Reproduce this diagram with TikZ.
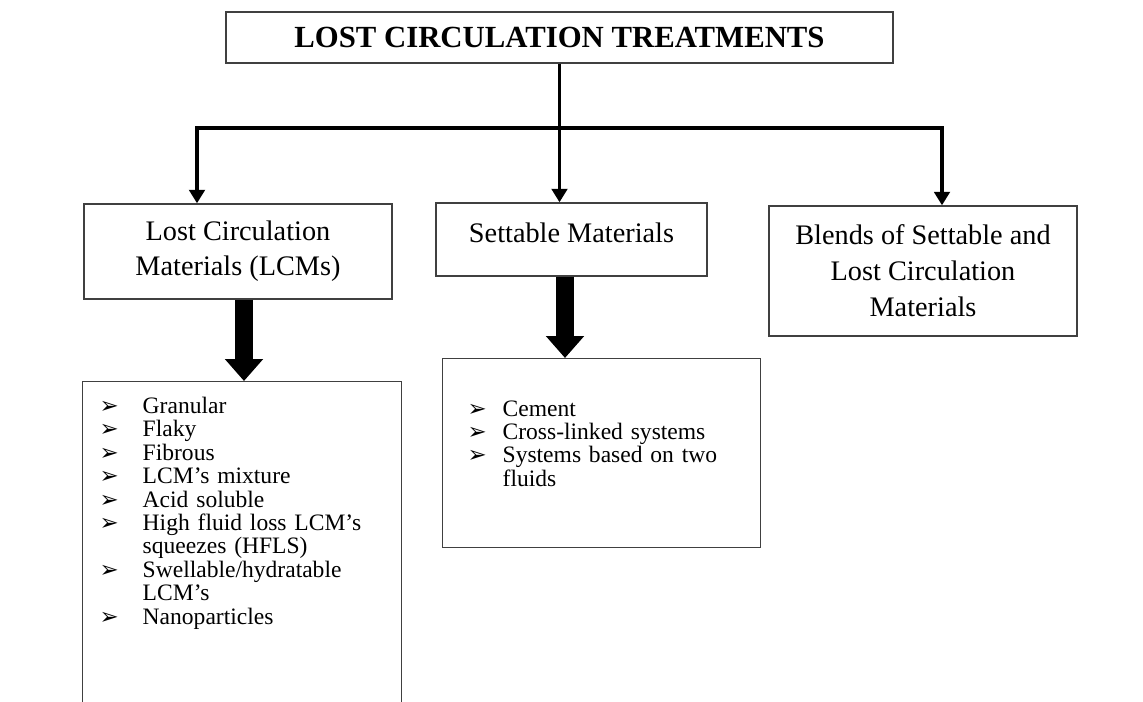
\documentclass[tikz,border=0pt]{standalone}
\usepackage{fontspec}
\setmainfont{Liberation Serif}
\newfontfamily\dejavu{DejaVu Sans}
\usetikzlibrary{positioning,arrows.meta}

\newcommand{\arrowbul}{{\dejavu\fontsize{13}{10}\selectfont ➢}}

\begin{document}
\begin{tikzpicture}[x=0.02cm, y=-0.02cm,
  box/.style={draw=black!75, line width=0.8pt, align=center,
              font=\fontsize{16.1}{19.8}\selectfont, inner sep=0pt},
  title/.style={box, font=\fontsize{17.5}{19}\selectfont\bfseries,
                minimum width=133.4mm, minimum height=10.2mm},
  listbox/.style={draw=black!75, line width=0.8pt, align=left,
                  font=\fontsize{13.4}{13.3}\selectfont},
  link/.style={line width=2pt},
  fat/.style={line width=3.5mm, -{Triangle[width=7.4mm,length=4.4mm]}},
  ]
  \useasboundingbox (0,0) rectangle (1143,701);

  \node[title] (title) at (559.5,37.5) {LOST CIRCULATION TREATMENTS};
  \node[box, minimum width=61.6mm, minimum height=19mm] (lcm) at (238,251.5)
    {Lost Circulation\\Materials (LCMs)};
  \node[box, minimum width=54.2mm, minimum height=14.6mm] (set) at (571.5,239.5)
    {Settable Materials\\[-12pt]\mbox{}};
  \node[box, minimum width=61.6mm, minimum height=26mm,
        font=\fontsize{16.1}{20.5}\selectfont] (blends) at (923,271)
    {Blends of Settable and\\Lost Circulation\\Materials};

  \node[listbox, anchor=north west, inner xsep=3.4mm, inner ysep=3.1mm,
        text width=57mm] (lcmlist) at (82,381)
    {\begin{tabular}{@{}p{24.5pt}@{}l@{}}
      \arrowbul & Granular\\
      \arrowbul & Flaky\\
      \arrowbul & Fibrous\\
      \arrowbul & LCM’s mixture\\
      \arrowbul & Acid soluble\\
      \arrowbul & High fluid loss LCM’s\\
                & squeezes (HFLS)\\
      \arrowbul & Swellable/hydratable\\
                & LCM’s\\
      \arrowbul & Nanoparticles\\
      & \\ & \\ & \\ & \\
    \end{tabular}};
  \node[listbox, anchor=north west, inner xsep=5mm, text width=53.6mm,
        minimum height=37.8mm] (setlist) at (442,358)
    {\begin{tabular}{@{}p{19.9pt}@{}l@{}}
      \arrowbul & Cement\\
      \arrowbul & Cross-linked systems\\
      \arrowbul & Systems based on two\\
                & fluids\\[7.5pt]
    \end{tabular}};

  % branch lines
  \coordinate (hl) at (197,128);
  \coordinate (hr) at (942,128);
  \draw[link] (title.south) -- (title.south |- hl);
  \draw[link, {Triangle[width=3.1mm,length=2.7mm]}-{Triangle[width=3.1mm,length=2.7mm]}]
    (hl |- lcm.north) -- (hl) -- (hr) -- (hr |- blends.north);
  \draw[link, -{Triangle[width=3.1mm,length=2.7mm]}] (title.south |- hl) -- (title.south |- set.north);

  % block arrows
  \coordinate (lcmout) at ([xshift=1.2mm]lcm.south);
  \coordinate (setout) at ([xshift=-1.3mm]set.south);
  \draw[fat] (lcmout) -- (lcmout |- lcmlist.north);
  \draw[fat] (setout) -- (setout |- setlist.north);
\end{tikzpicture}
\end{document}
